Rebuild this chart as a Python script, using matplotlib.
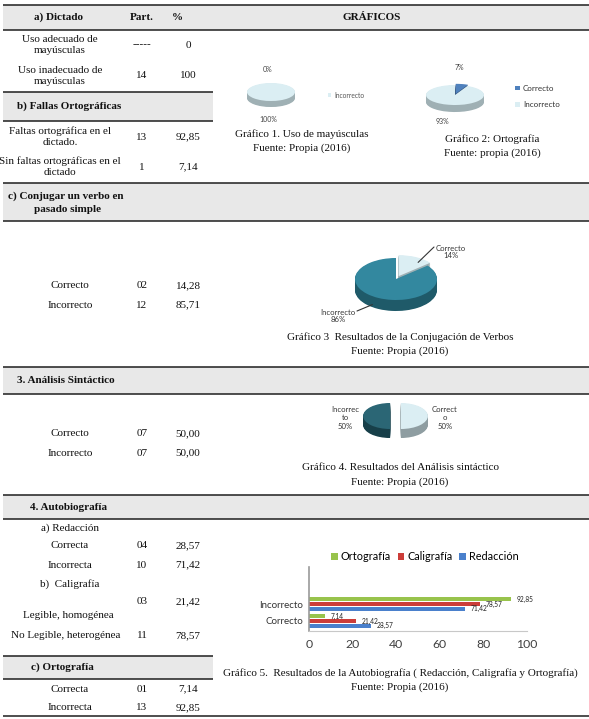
import matplotlib
matplotlib.use('Agg')
import matplotlib.pyplot as plt
from matplotlib.patches import Rectangle
import numpy as np

W, H = 589, 719
SERIF = 'Liberation Serif'
SANS = 'Lato'

# ---------------- table data ----------------
header = ["a) Dictado", "Part.", "%", "GRÁFICOS"]
dictado_labels = ["Uso adecuado de\nmayúsculas", "Uso inadecuado de\nmayúsculas"]
dictado_part = ["-----", "14"]
dictado_pct = ["0", "100"]
fallas_title = "b) Fallas Ortográficas"
fallas_labels = ["Faltas ortográfica en el\ndictado.", "Sin faltas ortográficas en el\ndictado"]
fallas_part = ["13", "1"]
fallas_pct = ["92,85", "7,14"]
conj_title = ["c) Conjugar un verbo en", "pasado simple"]
conj_labels = ["Correcto", "Incorrecto"]
conj_part = ["02", "12"]
conj_pct = ["14,28", "85,71"]
sint_title = "3. Análisis Sintáctico"
sint_labels = ["Correcto", "Incorrecto"]
sint_part = ["07", "07"]
sint_pct = ["50,00", "50,00"]
auto_title = "4. Autobiografía"
red_title = "a) Redacción"
red_labels = ["Correcta", "Incorrecta"]
red_part = ["04", "10"]
red_pct = ["28,57", "71,42"]
cal_title = "b)  Caligrafía"
cal_labels = ["Legible, homogénea", "No Legible, heterogénea"]
cal_part = ["03", "11"]
cal_pct = ["21,42", "78,57"]
orto_title = "c) Ortografía"
orto_labels = ["Correcta", "Incorrecta"]
orto_part = ["01", "13"]
orto_pct = ["7,14", "92,85"]

captions = [
    ["Gráfico 1. Uso de mayúsculas", "Fuente: Propia (2016)"],
    ["Gráfico 2: Ortografía", "Fuente: propia (2016)"],
    ["Gráfico 3  Resultados de la Conjugación de Verbos", "Fuente: Propia (2016)"],
    ["Gráfico 4. Resultados del Análisis sintáctico", "Fuente: Propia (2016)"],
    ["Gráfico 5.  Resultados de la Autobiografía ( Redacción, Caligrafía y Ortografía)", "Fuente: Propia (2016)"],
]

# ---------------- chart data ----------------
pie_labels = ["Correcto", "Incorrecto"]
pie1_vals = [0, 100]
pie2_vals = [7, 93]
pie3_vals = [14, 86]
pie4_vals = [50, 50]

bar_cats = ["Correcto", "Incorrecto"]
bar_series = ["Redacción", "Caligrafía", "Ortografía"]
redaccion = [28.57, 71.42]
caligrafia = [21.42, 78.57]
ortografia = [7.14, 92.85]
bar_ticks = [0, 20, 40, 60, 80, 100]

# ---------------- figure ----------------
fig = plt.figure(figsize=(W / 100, H / 100), dpi=100)
T = fig.add_axes([0, 0, 1, 1])
T.set_xlim(0, W)
T.set_ylim(H, 0)
T.axis('off')

GRAY = '#e8e8e8'
LINE = '#1e1e1e'
INK = '#111111'
FS = 8


def band(x0, x1, y0, y1):
    T.add_patch(Rectangle((x0, y0), x1 - x0, y1 - y0, fc=GRAY, ec='none', zorder=0))


def hline(y, x0=3, x1=589, lw=1.1):
    T.plot([x0, x1], [y, y], color=LINE, lw=lw, solid_capstyle='butt', zorder=2)


def txt(x, y, s, ha='center', bold=False, size=FS):
    T.text(x, y, s, ha=ha, va='center', fontsize=size, family=SERIF,
           fontweight='bold' if bold else 'normal', color=INK, linespacing=1.3)


def row(y, label, part, pct, lx=60, px=142, cx=188):
    txt(lx, y, label)
    txt(px, y, part)
    txt(cx, y, pct)


# header
band(3, 589, 5, 30)
hline(5)
hline(30)
txt(59, 17.5, header[0], bold=True)
txt(142, 17.5, header[1], bold=True)
txt(177, 17.5, header[2], bold=True)
txt(372, 17.5, header[3], bold=True)

# a) dictado
for y, l, p, c in zip([45, 76], dictado_labels, dictado_part, dictado_pct):
    row(y, l, p, c)

# b) fallas
band(3, 213, 92, 121)
hline(92, 3, 213)
hline(121, 3, 213)
txt(17, 106, fallas_title, ha='left', bold=True)
for y, l, p, c in zip([137, 167], fallas_labels, fallas_part, fallas_pct):
    row(y, l, p, c)

# c) conjugar
band(3, 589, 183, 221)
hline(183)
hline(221)
txt(8, 196, conj_title[0], ha='left', bold=True)
txt(34, 209, conj_title[1], ha='left', bold=True)
for y, l, p, c in zip([286, 305], conj_labels, conj_part, conj_pct):
    row(y, l, p, c, lx=70)

# 3. analisis
band(3, 589, 367, 394)
hline(367)
hline(394)
txt(17, 380.5, sint_title, ha='left', bold=True)
for y, l, p, c in zip([434, 453], sint_labels, sint_part, sint_pct):
    row(y, l, p, c, lx=70)

# 4. autobiografia
band(3, 589, 495, 519)
hline(495)
hline(519)
txt(30, 507, auto_title, ha='left', bold=True)
txt(70, 528, red_title)
for y, l, p, c in zip([546, 565], red_labels, red_part, red_pct):
    row(y, l, p, c, lx=70)
txt(70, 584, cal_title)
txt(142, 602, cal_part[0])
txt(188, 602, cal_pct[0])
txt(68, 616, cal_labels[0])
row(636, cal_labels[1], cal_part[1], cal_pct[1], lx=66)

band(3, 213, 656, 679)
hline(656, 3, 213)
hline(679, 3, 213)
txt(62, 667.5, orto_title, bold=True)
for y, l, p, c in zip([689, 708], orto_labels, orto_part, orto_pct):
    row(y, l, p, c, lx=70)
hline(716)

# captions
cap_pos = [(302, 134), (492, 139), (400, 337), (400, 468), (400, 673)]
for (x, y), (a, b) in zip(cap_pos, captions):
    txt(x, y, a)
    txt(x, y + 14.5, b)


# ---------------- 3D-looking pies ----------------
def px_axes(x0, y0, w, h):
    return fig.add_axes([x0 / W, 1 - (y0 + h) / H, w / W, h / H])


def pie3d(cx, cy, rx, ry, depth, vals, top_cols, side_cols, explode, L=1.4):
    dd = depth / ry
    ax = px_axes(cx - L * rx, cy - L * ry, 2 * L * rx, (2 * L + dd) * ry)
    n = max(int(depth * 1.5), 3)
    for k in range(n, 0, -1):
        ax.pie(vals, colors=side_cols, explode=explode, startangle=90,
               counterclock=False, center=(0, -dd * k / n),
               wedgeprops=dict(linewidth=0))
    wedges, _ = ax.pie(vals, colors=top_cols, explode=explode, startangle=90,
                       counterclock=False, center=(0, 0),
                       wedgeprops=dict(linewidth=0))
    ax.set_aspect('auto')
    ax.set_xlim(-L, L)
    ax.set_ylim(-L - dd, L)
    ax.axis('off')
    return ax, wedges, dd


LIGHT = '#dbeef3'
LIGHT_SIDE = '#9fb0b4'

# pie 1
ax1, w1, _ = pie3d(271, 92, 24, 9, 6, pie1_vals, ['#4f81bd', LIGHT],
                   ['#2c4d75', LIGHT_SIDE], [0, 0])
T.text(268, 70, f"{pie1_vals[0]}%", ha='center', va='center', fontsize=5, family=SANS, color='#444')
T.text(268, 120, f"{pie1_vals[1]}%", ha='center', va='center', fontsize=5, family=SANS, color='#444')
ax1.legend([w1[1]], [pie_labels[1]], loc='center left', bbox_to_anchor=(322 / W, 1 - 95 / H),
           bbox_transform=fig.transFigure, frameon=False,
           handlelength=0.5, handleheight=0.5, handletextpad=0.4,
           prop={'family': SANS, 'size': 4.8}, labelcolor='#555')

# pie 2
ax2, w2, _ = pie3d(455, 95, 29, 10, 7, pie2_vals, ['#4f81bd', LIGHT],
                   ['#2c4d75', LIGHT_SIDE], [0.12, 0])
T.text(459, 68, f"{pie2_vals[0]}%", ha='center', va='center', fontsize=5, family=SANS, color='#444')
T.text(442, 122, f"{pie2_vals[1]}%", ha='center', va='center', fontsize=5, family=SANS, color='#444')
ax2.legend(w2, pie_labels, loc='center left', bbox_to_anchor=(508 / W, 1 - 96.5 / H),
           bbox_transform=fig.transFigure, frameon=False,
           handlelength=0.55, handleheight=0.55, handletextpad=0.4, labelspacing=1.15,
           prop={'family': SANS, 'size': 5.8}, labelcolor='#333')

# pie 3
ax3, w3, dd3 = pie3d(396, 279, 41, 21, 11, pie3_vals, [LIGHT, '#33889f'],
                     [LIGHT_SIDE, '#1f5a69'], [0.15, 0])
T.text(451, 252, f"{pie_labels[0]}\n{pie3_vals[0]}%", ha='center', va='center',
       fontsize=5.6, family=SANS, color='#333', linespacing=1.1)
T.text(338, 316, f"{pie_labels[1]}\n{pie3_vals[1]}%", ha='center', va='center',
       fontsize=5.6, family=SANS, color='#333', linespacing=1.1)
# leader lines from the wedges
th0 = np.deg2rad(90 - pie3_vals[0] * 3.6 / 2)
ax3.annotate('', xy=(1.15 * np.cos(th0) + 0.05, 1.15 * np.sin(th0) - 0.25), xytext=(434, 247),
             textcoords=T.transData,
             arrowprops=dict(arrowstyle='-', color='#333', lw=0.8, shrinkA=0, shrinkB=0))
th1 = np.deg2rad(90 - pie3_vals[0] * 3.6 - pie3_vals[1] * 3.6 / 2)
ax3.annotate('', xy=(np.cos(th1) - 0.15, np.sin(th1) - dd3 * 0.6), xytext=(357, 311),
             textcoords=T.transData,
             arrowprops=dict(arrowstyle='-', color='#333', lw=0.8, shrinkA=0, shrinkB=0))

# pie 4
ax4, w4, _ = pie3d(395.5, 416, 27, 13, 9, pie4_vals, [LIGHT, '#2b6675'],
                   ['#8e9da1', '#173f49'], [0.2, 0.2])
lab1 = pie_labels[1]
T.text(345, 418, f"{lab1[:8]}\n{lab1[8:]}\n{pie4_vals[1]}%",
       ha='center', va='center', fontsize=5.6, family=SANS, color='#333', linespacing=1.25)
lab0 = pie_labels[0]
T.text(445, 418, f"{lab0[:7]}\n{lab0[7:]}\n{pie4_vals[0]}%", ha='center', va='center',
       fontsize=5.6, family=SANS, color='#333', linespacing=1.25)

# ---------------- bar chart ----------------
bx = px_axes(309, 567, 527 - 309, 631 - 567)
y = np.arange(len(bar_cats))
h = 0.28
bh = 0.25
specs = [(redaccion, '#4a80cc', -h), (caligrafia, '#cc3d39', 0.0), (ortografia, '#98c34c', h)]
handles = []
for vals, col, off in specs:
    bars = bx.barh(y + off, vals, height=bh, color=col, edgecolor='none')
    handles.append(bars)
    for yi, v in zip(y, vals):
        bx.text(v + 2.6, yi + off, f"{v:.2f}".replace('.', ','), ha='left', va='center',
                fontsize=4.8, family=SANS, color='#222')
bx.set_xlim(0, 100)
bx.set_ylim(-0.59, 3.18)
bx.set_xticks(bar_ticks)
bx.set_xticklabels([str(t) for t in bar_ticks], family=SANS, fontsize=8.8, color='#404040')
bx.set_yticks(y)
bx.set_yticklabels(bar_cats, family=SANS, fontsize=7, color='#333')
bx.tick_params(length=0, pad=4)
bx.tick_params(axis='x', pad=6)
for s in ['top', 'right']:
    bx.spines[s].set_visible(False)
bx.spines['left'].set_color('#9a9a9a')
bx.spines['left'].set_linewidth(1.2)
bx.spines['bottom'].set_color('#c8c8c8')
bx.spines['bottom'].set_linewidth(0.8)
bx.patch.set_alpha(0)
leg_order = [2, 1, 0]
bx.legend([handles[i] for i in leg_order], [bar_series[i] for i in leg_order],
          loc='center', bbox_to_anchor=(425 / W, 1 - 557 / H), bbox_transform=fig.transFigure,
          ncol=3, frameon=False, handlelength=0.6, handleheight=0.6, handletextpad=0.3,
          columnspacing=0.6, prop={'family': SANS, 'size': 7.8})

fig.savefig('out.png', dpi=100)
